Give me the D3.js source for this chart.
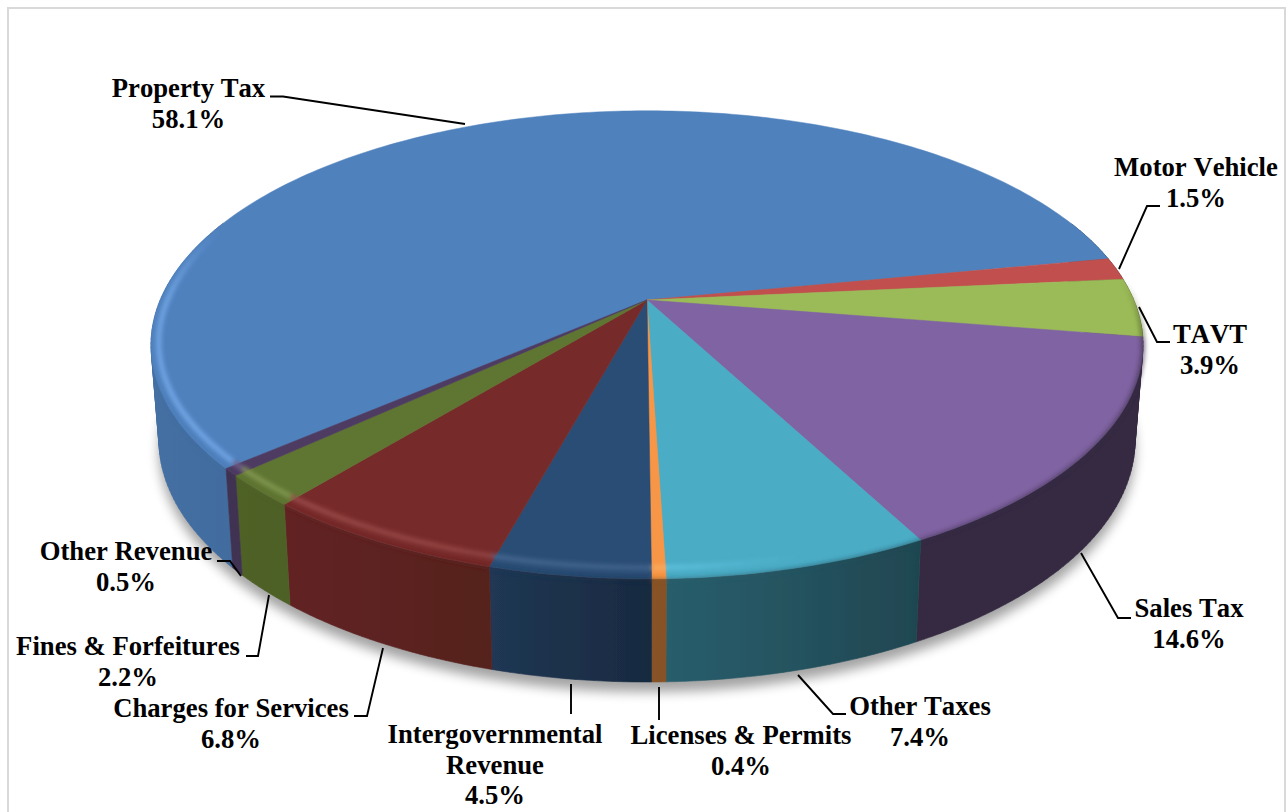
<!DOCTYPE html>
<html>
<head>
<meta charset="utf-8">
<script src="https://cdn.jsdelivr.net/npm/d3@7/dist/d3.min.js"></script>
<style>
html,body{margin:0;padding:0;background:#fff;}
svg{display:block;}
text{font-family:"Liberation Serif",serif;font-weight:bold;font-size:26.7px;font-kerning:none;fill:#000;text-anchor:middle;}
</style>
</head>
<body>
<svg id="chart" width="1288" height="812"></svg>
<script>
// Revenue shares, clockwise from the largest slice
const categories = ["Property Tax","Motor Vehicle","TAVT","Sales Tax","Other Taxes","Licenses & Permits","Intergovernmental Revenue","Charges for Services","Fines & Forfeitures","Other Revenue"];
const shares = [58.1,1.5,3.9,14.6,7.4,0.4,4.5,6.8,2.2,0.5];
const sliceColors = ["#4f81bd","#c0504d","#9bbb59","#8064a2","#4bacc6","#f79646","#2c4d75","#772c2a","#5f7530","#4d3b62"];

// Label wrapping and placement: text lines, centre x, first baseline, leader polyline
const labelLines = [["Property Tax"],["Motor Vehicle"],["TAVT"],["Sales Tax"],["Other Taxes"],["Licenses & Permits"],["Intergovernmental","Revenue"],["Charges for Services"],["Fines & Forfeitures"],["Other Revenue"]];
const labelPlacement = [
  {x:188.5,y:97, leader:[[270,96.5],[283,96.5],[465,124]]},
  {x:1196,y:176, leader:[[1160,206],[1147,206],[1119,269]]},
  {x:1210,y:343, leader:[[1170,342],[1157,342],[1139,307]]},
  {x:1189,y:617, leader:[[1131,618],[1118,618],[1081,553]]},
  {x:920,y:715,  leader:[[846,714],[833,714],[798,675]]},
  {x:741,y:744,  leader:[[659,720],[659,687]]},
  {x:495,y:743,  leader:[[571,714],[571,684]]},
  {x:231,y:717,  leader:[[354,716],[367,716],[383,648]]},
  {x:128,y:655,  leader:[[246,656],[258,656],[269,595]]},
  {x:126,y:560,  leader:[[217,561],[230,561],[241,576]]}
];

const svg = d3.select("#chart");
const defs = svg.append("defs");
const blur = (id, s) => defs.append("filter").attr("id", id)
  .attr("x","-10%").attr("y","-10%").attr("width","120%").attr("height","120%")
  .append("feGaussianBlur").attr("stdDeviation", s);
blur("soft", 0.6); blur("rim", 2.2); blur("edge", 2); blur("shadow", 6);

// Perspective view of a tilted disc: the near edge is larger than the far one.
// A slight angular lens term draws the diagonals in toward the axes.
const cx = 647, tilt = 0.1915, lens = 0.015;
const topPlane = {a:-168, b:300, d:486.8};
const basePlane = {a:-157.7, b:393.7, d:479};
const project = (plane, angle, r = 1) => {
  const t = angle - lens * Math.sin(2 * angle);
  const u = r * Math.sin(t), v = r * Math.cos(t), w = 1 + tilt * v;
  return [cx + plane.d * u / w, (plane.a * v + plane.b) / w];
};
const line = d3.line();

const arcs = d3.pie().sort(null).value(d => d)
  .startAngle(-130 * Math.PI / 180).endAngle(230 * Math.PI / 180)(shares);

const samples = (a0, a1, stepDeg) => {
  const n = Math.max(1, Math.ceil((a1 - a0) / (stepDeg * Math.PI / 180)));
  return d3.range(n + 1).map(i => a0 + (a1 - a0) * i / n);
};

// Chart frame, open at the bottom of the page
svg.append("path").attr("d", line([[8,812],[8,8],[1285,8],[1285,812]]))
  .attr("fill","none").attr("stroke","#d9d9d9").attr("stroke-width",2);

// Soft shadow under the base
const full = samples(0, 2 * Math.PI, 2);
svg.append("path")
  .attr("d", line(full.map(a => { const p = project(basePlane, a); return [p[0], p[1] + 10]; })) + "Z")
  .attr("fill","#000").attr("opacity",0.36).attr("filter","url(#shadow)");

const pie = svg.append("g").attr("filter","url(#soft)");

// Wall brightness falls off from the lit left side to the right
const shadeStops = [[150,0.86],[290,0.82],[490,0.72],[650,0.55],[760,0.5],[918,0.41],[1140,0.41]];
const wallShade = d3.scaleLinear().domain(shadeStops.map(s => s[0])).range(shadeStops.map(s => s[1])).clamp(true);
const darken = (hex, k) => { const c = d3.rgb(hex); return d3.rgb(c.r * k, c.g * k, c.b * k).formatHex(); };

// Side walls: one path per slice, swept as quads so the silhouette stays tangent.
// Every quad is wound the same way so overlapping ones never cancel under the fill rule.
const windSame = quad => d3.polygonArea(quad) < 0 ? quad.slice().reverse() : quad;
arcs.forEach((d, i) => {
  const grad = defs.append("linearGradient").attr("id", "wall" + i)
    .attr("gradientUnits","userSpaceOnUse").attr("x1",150).attr("x2",1140).attr("y1",0).attr("y2",0);
  shadeStops.forEach(s => grad.append("stop")
    .attr("offset", (s[0] - 150) / 990)
    .attr("stop-color", darken(sliceColors[i], s[1])));
  const quads = d3.pairs(samples(d.startAngle, d.endAngle, 1))
    .filter(([a0, a1]) => Math.cos((a0 + a1) / 2) < 0.35)
    .map(([a0, a1]) => line(windSame([project(topPlane,a0),project(topPlane,a1),project(basePlane,a1),project(basePlane,a0)])) + "Z")
    .join("");
  pie.append("path").attr("d", quads)
    .attr("fill", `url(#wall${i})`).attr("stroke", `url(#wall${i})`).attr("stroke-width", 0.6);
});

// Top faces
arcs.forEach((d, i) => {
  const pts = samples(d.startAngle, d.endAngle, 1).map(a => project(topPlane, a));
  pie.append("path")
    .attr("d", line([[cx, topPlane.b], ...pts]) + "Z")
    .attr("fill", sliceColors[i]).attr("stroke", sliceColors[i]).attr("stroke-width", 0.5);
});

// Bevel: a darker blend where the top meets the wall, and a highlight just inside it.
// Both fade with the angular offset from the nearest point of the rim (negative = west side).
const glowFade = d3.scaleLinear().domain([-108,-92,-60,0,15]).range([0,0.9,1,0.55,0]).clamp(true);
const edgeFade = d3.scaleLinear().domain([-70,0,80,95]).range([0,0.5,0.7,0]).clamp(true);
const offsetFromFront = a => { let x = a * 180 / Math.PI - 180; return ((x + 180) % 360 + 360) % 360 - 180; };

const edgeLayer = svg.append("g").attr("filter","url(#edge)");
const rimLayer = svg.append("g").attr("filter","url(#rim)");
arcs.forEach((d, i) => {
  const glow = d3.interpolateRgb(d3.rgb(sliceColors[i]).brighter(0.5), "#ffffff")(0.13);
  d3.pairs(samples(d.startAngle, d.endAngle, 2)).forEach(([a0, a1]) => {
    const mid = (a0 + a1) / 2, off = -offsetFromFront(mid);
    const g = glowFade(off), e = edgeFade(off);
    const lift = 6 * Math.abs(Math.cos(mid));
    if (g > 0) {
      rimLayer.append("path")
        .attr("d", line([project(topPlane,a0,0.985), project(topPlane,a1,0.985)].map(p => [p[0], p[1] - lift])))
        .attr("fill","none").attr("stroke", glow).attr("stroke-width",5).attr("stroke-opacity", g);
    }
    if (e > 0) {
      const col = darken(sliceColors[i], wallShade(project(topPlane, mid)[0]));
      edgeLayer.append("path")
        .attr("d", line([project(topPlane,a0), project(topPlane,a1)].map(p => [p[0], p[1] + 1])))
        .attr("fill","none").attr("stroke", col).attr("stroke-width",4).attr("stroke-opacity", e);
    }
  });
});

// Leaders
svg.append("g").selectAll("path").data(labelPlacement).join("path")
  .attr("d", d => line(d.leader))
  .attr("fill","none").attr("stroke","#000").attr("stroke-width",1.9);

// Category name and share
const labels = svg.append("g").selectAll("text").data(categories).join("text")
  .attr("x", (d, i) => labelPlacement[i].x)
  .attr("y", (d, i) => labelPlacement[i].y);
labels.each(function(d, i) {
  const t = d3.select(this);
  const rows = [...labelLines[i], d3.format(".1f")(shares[i]) + "%"];
  rows.forEach((row, k) => t.append("tspan")
    .attr("x", labelPlacement[i].x).attr("dy", k ? 30.5 : 0).text(row));
});
</script>
</body>
</html>
